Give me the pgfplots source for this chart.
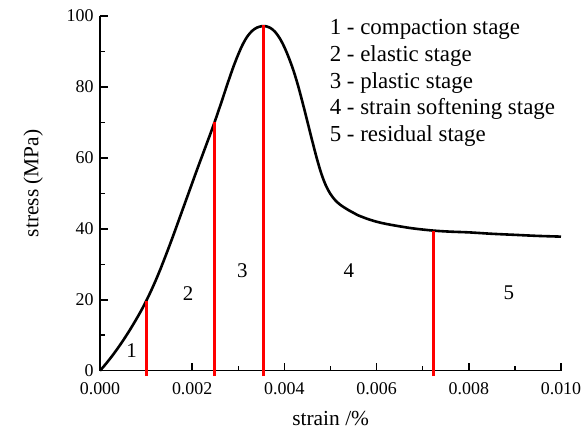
\documentclass[border=0pt]{standalone}
\usepackage{pgfplots}
\pgfplotsset{compat=1.18}
\usepackage{fontspec}
\setmainfont{Liberation Serif}
\begin{document}
\begin{tikzpicture}
\begin{axis}[
  scale only axis, width=461bp, height=354.7bp,
  at={(0,0)}, anchor=south west,
  xmin=0, xmax=0.010, ymin=0, ymax=100,
  axis x line*=bottom, axis y line*=left,
  axis line style={line width=1.5bp, -},
  xtick={0,0.002,0.004,0.006,0.008,0.010},
  minor xtick={0.001,0.003,0.005,0.007,0.009},
  ytick={0,20,40,60,80,100}, minor ytick={10,30,50,70,90},
  tick align=inside,
  major tick length=8bp, minor tick length=5bp,
  every tick/.style={line width=1.5bp, black},
  scaled x ticks=false,
  xticklabel style={/pgf/number format/fixed, /pgf/number format/fixed zerofill, /pgf/number format/precision=3, yshift=-8bp},
  yticklabel style={xshift=-3bp},
  /pgf/number format/assume math mode=true,
  ticklabel style={font=\fontsize{18}{20}\selectfont},
  xlabel={strain /\%}, ylabel={stress (MPa)},
  label style={font=\fontsize{21.5}{24}\selectfont},
  xlabel style={at={(axis description cs:0.5004,-0.1559)}, anchor=base},
  ylabel style={at={(axis description cs:-0.1338,0.528)}, anchor=base},
  clip=false,
]
\addplot[black, line width=2.6bp, smooth] coordinates {
(0,0) (0.0001,1.5) (0.0002,3.1) (0.0003,4.8) (0.0004,6.6) (0.0005,8.5)
(0.0006,10.5) (0.0007,12.6) (0.0008,14.8) (0.0009,17.1) (0.0010,19.6)
(0.0011,22.3) (0.0012,25.2) (0.0013,28.3) (0.0014,31.6) (0.0015,35.0)
(0.0016,38.5) (0.0017,42.1) (0.0018,45.7) (0.0019,49.3) (0.0020,52.9)
(0.0021,56.5) (0.0022,60.0) (0.0023,63.5) (0.0024,67.0) (0.0025,70.6)
(0.0026,74.4) (0.0027,78.3) (0.0028,82.2) (0.0029,85.9) (0.0030,89.2)
(0.0031,92.1) (0.0032,94.3) (0.0033,95.8) (0.0034,96.7) (0.0035,97.1)
(0.0036,97.1) (0.0037,96.6) (0.0038,95.5) (0.0039,93.7) (0.0040,91.2)
(0.0041,88.1) (0.0042,84.5) (0.0043,80.2) (0.0044,75.3) (0.0045,70.2)
(0.0046,65.0) (0.0047,60.0) (0.0048,55.6) (0.0049,52.2) (0.0050,49.8)
(0.0051,48.1) (0.0052,46.9) (0.0053,46.0) (0.0054,45.2) (0.0055,44.5)
(0.0056,43.8) (0.0057,43.3) (0.0058,42.8) (0.0060,42.0) (0.0062,41.4)
(0.0065,40.7) (0.0068,40.1) (0.00723,39.5) (0.0076,39.2) (0.0080,39.0)
(0.0085,38.6) (0.0090,38.3) (0.0095,38.0) (0.0100,37.8)
};
\addplot[red, line width=3bp] coordinates {(0.001,-1.5) (0.001,19.6)};
\addplot[red, line width=3bp] coordinates {(0.002473,-1.5) (0.002473,70.2)};
\addplot[red, line width=3bp] coordinates {(0.003543,-1.5) (0.003543,97.4)};
\addplot[red, line width=3bp] coordinates {(0.00723,-1.5) (0.00723,39.5)};
\begin{scope}[every node/.style={font=\fontsize{21}{24}\selectfont, inner sep=0pt, anchor=base}]
\node at (axis cs:0.000687,3.67) {1};
\node at (axis cs:0.00191,19.9) {2};
\node at (axis cs:0.003087,26.3) {3};
\node at (axis cs:0.0054,26.4) {4};
\node at (axis cs:0.00887,20.2) {5};
\end{scope}
\begin{scope}[every node/.style={font=\fontsize{23}{25}\selectfont, inner sep=0pt, anchor=base west}]
\node at (axis cs:0.00498,94.7) {1 - compaction stage};
\node at (axis cs:0.00498,87.2) {2 - elastic stage};
\node at (axis cs:0.00498,79.7) {3 - plastic stage};
\node at (axis cs:0.00498,72.2) {4 - strain softening stage};
\node at (axis cs:0.00498,64.6) {5 - residual stage};
\end{scope}
\end{axis}
\pgfresetboundingbox
\path[use as bounding box] (-100bp,-63.3bp) rectangle (481bp,370.7bp);
\end{tikzpicture}
\end{document}
